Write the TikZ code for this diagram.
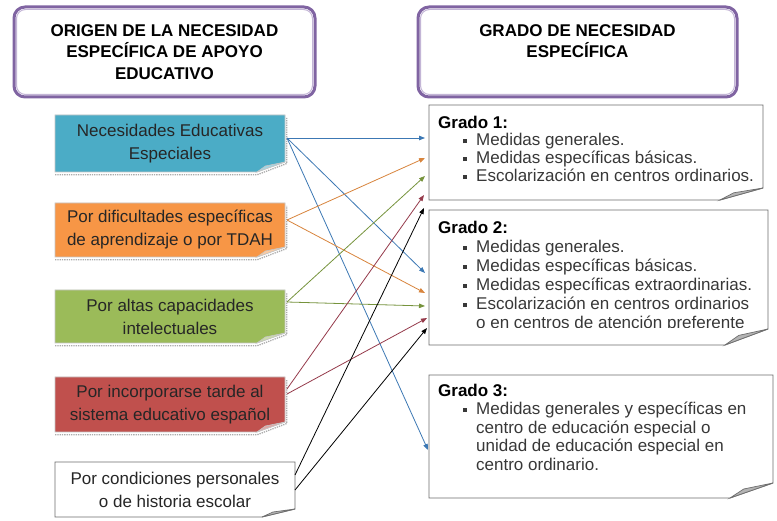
\documentclass[tikz,border=0pt]{standalone}
\usepackage{fontspec}
\setmainfont{Liberation Sans}
\usetikzlibrary{arrows.meta,calc,backgrounds}
\definecolor{cnee}{HTML}{4BACC6}
\definecolor{cori}{HTML}{F79646}
\definecolor{calt}{HTML}{9BBB59}
\definecolor{cinc}{HTML}{C0504D}
\definecolor{hpur}{HTML}{8064A2}
\definecolor{hlav}{HTML}{C3B5D6}
\definecolor{ablue}{HTML}{3C78B4}
\definecolor{aora}{HTML}{D8843C}
\definecolor{agre}{HTML}{76933C}
\definecolor{ared}{HTML}{953A4A}
\definecolor{foldg}{HTML}{B4B4B4}
\definecolor{gline}{HTML}{6E6E6E}

\newcommand\sqb{\makebox[13pt][l]{\rule[2.4pt]{4pt}{4pt}}}
% node, fill, draw, fold width, fold height
\newcommand\lfold[5]{%
  \draw[gray!65, densely dotted, line width=1.3pt] ($(#1.south west)+(0,2.8)$) -- ($(#1.south east)+(-#4,2.8)$) -- ($(#1.south east)+(1.8,-#5+1.5)$) -- ($(#1.north east)+(1.8,3)$);
  \filldraw[fill=#2, draw=#3, line width=0.8pt] (#1.north west) -- (#1.north east) -- ($(#1.south east)+(0,-#5)$) -- ($(#1.south east)+(-#4,0)$) -- (#1.south west) -- cycle;
  \filldraw[fill=#2!50!white, draw=#3, line width=0.6pt] ($(#1.south east)+(0,-#5)$) -- ($(#1.south east)+(-#4,0)$) -- ($(#1.south east)+(-0.7*#4,-0.6*#5)$) -- cycle;
}
% node, fold width, fold height
\newcommand\gfold[3]{%
  \filldraw[fill=white, draw=gline, line width=0.9pt] (#1.north west) -- (#1.north east) -- ($(#1.south east)+(0,-#3)$) -- ($(#1.south east)+(-#2,0)$) -- (#1.south west) -- cycle;
  \filldraw[fill=foldg, draw=gline, line width=0.7pt] ($(#1.south east)+(0,-#3)$) -- ($(#1.south east)+(-#2,0)$) -- ($(#1.south east)+(-0.68*#2,-0.6*#3)$) -- cycle;
}

\begin{document}
\begin{tikzpicture}[x=1pt,y=-1pt,
  hbox/.style={anchor=north west, inner sep=0pt, outer sep=0pt, align=center, font=\fontsize{17}{21.5}\selectfont\bfseries, minimum height=90pt},
  lbox/.style={anchor=north west, inner sep=0pt, outer sep=0pt, align=center, font=\fontsize{17}{23}\selectfont, text=black!85},
  gbox/.style={anchor=north west, inner sep=0pt, outer sep=0pt},
  gtext/.style={anchor=north west, inner sep=0pt, align=left, font=\fontsize{17}{18.5}\selectfont, text=black!78},
  conn/.style={line width=0.8pt, -{Triangle[length=6pt,width=4.5pt]}},
  hdrline/.style={draw=hpur, line width=3pt, rounded corners=11pt},
  hdrinner/.style={draw=hlav, line width=1pt, rounded corners=9pt}
]
\useasboundingbox (0,0) rectangle (777,521);

% headers
\node[hbox, minimum width=301pt] (h1) at (14,7) {ORIGEN DE LA NECESIDAD\\ESPECÍFICA DE APOYO\\EDUCATIVO};
\node[hbox, minimum width=319pt] (h2) at (418,7) {GRADO DE NECESIDAD\\ESPECÍFICA\\\mbox{}};
\draw[hdrline] (h1.north west) rectangle (h1.south east);
\draw[hdrinner] ($(h1.north west)+(2.5,2.5)$) rectangle ($(h1.south east)+(-2.5,-2.5)$);
\draw[hdrline] (h2.north west) rectangle (h2.south east);
\draw[hdrinner] ($(h2.north west)+(2.5,2.5)$) rectangle ($(h2.south east)+(-2.5,-2.5)$);

% origin boxes
\node[lbox, minimum width=230pt, minimum height=57pt] (nee) at (55,115) {Necesidades Educativas\\Especiales};
\node[lbox, minimum width=230pt, minimum height=54pt] (ori) at (55,203) {Por dificultades específicas\\de aprendizaje o por TDAH};
\node[lbox, minimum width=230pt, minimum height=53pt] (alt) at (55,290) {Por altas capacidades\\intelectuales};
\node[lbox, minimum width=230pt, minimum height=55pt] (inc) at (55,377) {Por incorporarse tarde al\\sistema educativo español};
\node[lbox, minimum width=240pt, minimum height=55pt] (cond) at (55,462) {Por condiciones personales\\o de historia escolar};

% grade boxes
\node[gbox, minimum width=334pt, minimum height=95pt] (g1) at (429,105) {};
\node[gbox, minimum width=339pt, minimum height=135pt] (g2) at (429,210) {};
\node[gbox, minimum width=344pt, minimum height=123pt] (g3) at (429,375) {};

\node[gtext, font=\fontsize{17}{17.8}\selectfont] (g1t) at ($(g1.north west)+(9,10.5)$) {\textbf{\color{black}Grado 1:}\\
\hspace*{25pt}\sqb Medidas generales.\\
\hspace*{25pt}\sqb Medidas específicas básicas.\\
\hspace*{25pt}\sqb Escolarización en centros ordinarios.};

\begin{scope}
\clip (g2.north west) rectangle ($(g2.north east)+(0,118)$);
\node[gtext, font=\fontsize{17}{19}\selectfont] (g2t) at ($(g2.north west)+(9,10.5)$) {\textbf{\color{black}Grado 2:}\\
\hspace*{25pt}\sqb Medidas generales.\\
\hspace*{25pt}\sqb Medidas específicas básicas.\\
\hspace*{25pt}\sqb Medidas específicas extraordinarias.\\
\hspace*{25pt}\sqb Escolarización en centros ordinarios\\
\hspace*{38pt}o en centros de atención preferente};
\end{scope}

\node[gtext] (g3t) at ($(g3.north west)+(9,8.5)$) {\textbf{\color{black}Grado 3:}\\
\hspace*{25pt}\sqb Medidas generales y específicas en\\
\hspace*{38pt}centro de educación especial o\\
\hspace*{38pt}unidad de educación especial en\\
\hspace*{38pt}centro ordinario.};

% shapes behind the texts
\begin{scope}[on background layer]
\fill[white] (0,0) rectangle (777,521);
\lfold{nee}{cnee}{gray!45}{28}{10}
\lfold{ori}{cori}{gray!45}{28}{10}
\lfold{alt}{calt}{gray!45}{28}{10}
\lfold{inc}{cinc}{gray!45}{28}{10}
\filldraw[fill=white, draw=gline, line width=0.9pt] (cond.north west) -- (cond.north east) -- ($(cond.south east)+(0,-8)$) -- ($(cond.south east)+(-33,0)$) -- (cond.south west) -- cycle;
\filldraw[fill=foldg, draw=gline, line width=0.7pt] ($(cond.south east)+(0,-8)$) -- ($(cond.south east)+(-33,0)$) -- ($(cond.south east)+(-22,-5)$) -- cycle;
\gfold{g1}{43}{12}
\gfold{g2}{43}{16}
\gfold{g3}{43}{15}
\end{scope}

% connectors
\draw[conn, ablue] ($(nee.north east)+(2,23)$) -- ($(g1.north west)+(-4,33)$);
\draw[conn, ablue] ($(nee.north east)+(2,23)$) -- ($(g2.north west)+(-4,63)$);
\draw[conn, ablue] ($(nee.north east)+(2,23)$) -- ($(g3.north west)+(-1,75)$);
\draw[conn, aora] ($(ori.north east)+(2,17)$) -- ($(g1.north west)+(-4,53)$);
\draw[conn, aora] ($(ori.north east)+(2,17)$) -- ($(g2.north west)+(-4,83)$);
\draw[conn, agre] ($(alt.north east)+(2,12)$) -- ($(g1.north west)+(-4,71)$);
\draw[conn, agre] ($(alt.north east)+(2,12)$) -- ($(g2.north west)+(-4,96)$);
\draw[conn, ared] ($(inc.north east)+(2,12)$) -- ($(g1.north west)+(-5,90)$);
\draw[conn, ared] ($(inc.north east)+(2,17)$) -- ($(g2.north west)+(-2,108)$);
\draw[conn, black] ($(cond.north east)+(0,13)$) -- ($(g1.north west)+(-5,103)$);
\draw[conn, black] ($(cond.north east)+(0,28)$) -- ($(g2.north west)+(-2,118)$);
\end{tikzpicture}
\end{document}
